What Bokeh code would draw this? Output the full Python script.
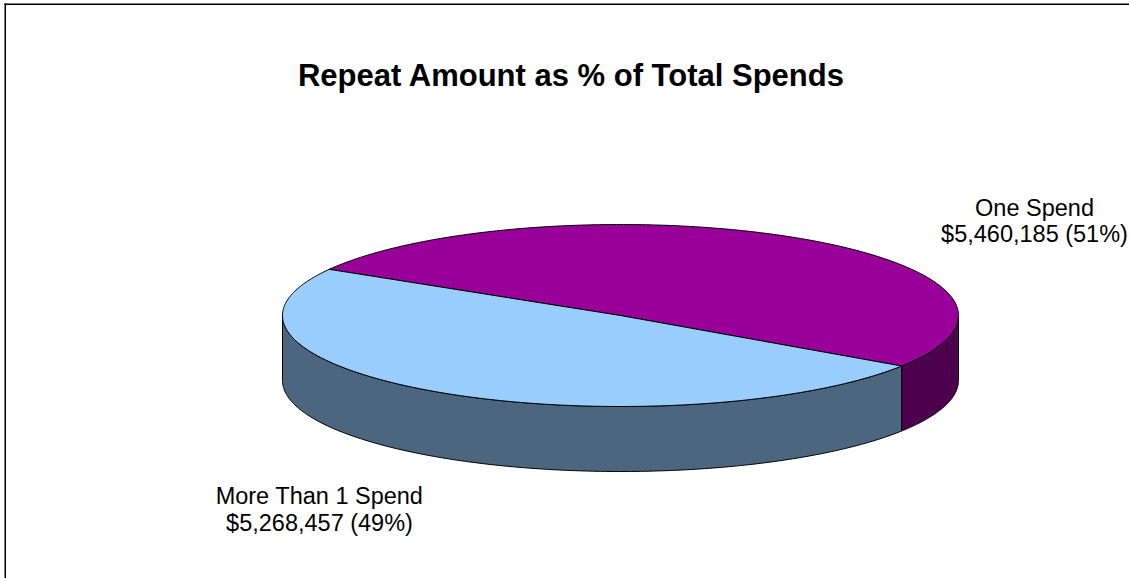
import numpy as np
from bokeh.plotting import figure
from bokeh.models import Range1d
from bokeh.embed import file_html
from bokeh.resources import INLINE
from bokeh.core.properties import value

# ---- data ----
categories = ["One Spend", "More Than 1 Spend"]
amounts = [5460185, 5268457]
top_colors = ["#990099", "#99CCFF"]
side_colors = ["#4D004D", "#4D6680"]
title_text = "Repeat Amount as % of Total Spends"

# ---- layout ----
W, H = 1129, 578
CX, CY, RX, RY, DEPTH = 620, 315, 338, 91, 65
START = 149.5  # degrees, first slice starts here and runs clockwise
FONT = "Liberation Sans"

p = figure(width=W, height=H, x_range=Range1d(0, W), y_range=Range1d(H, 0),
           output_backend="svg", toolbar_location=None,
           min_border=0, min_border_left=0, min_border_right=0,
           min_border_top=0, min_border_bottom=0)
p.xaxis.visible = False
p.yaxis.visible = False
p.grid.visible = False
p.outline_line_color = None
p.background_fill_color = "white"
p.border_fill_color = "white"

total = float(sum(amounts))
spans = [a / total * 360.0 for a in amounts]


def ex(t):
    return CX + RX * np.cos(np.radians(t))


def ey(t):
    return CY - RY * np.sin(np.radians(t))


# compute slice angle intervals
slices = []
a0 = START
for s in spans:
    slices.append((a0, a0 - s))
    a0 -= s

# sides (front half: sin(t) <= 0)
side_xs, side_ys, side_cols = [], [], []
for (a_s, a_e), col in zip(slices, side_colors):
    for k in range(-2, 3):
        lo = max(a_e, -180 + 360 * k)
        hi = min(a_s, 0 + 360 * k)
        if hi > lo:
            t = np.linspace(hi, lo, 200)
            xs = list(ex(t)) + list(ex(t[::-1]))
            ys = list(ey(t)) + list(ey(t[::-1]) + DEPTH)
            side_xs.append(xs)
            side_ys.append(ys)
            side_cols.append(col)

p.patches(side_xs, side_ys, fill_color=side_cols, line_color="black", line_width=1)

# top faces
top_xs, top_ys = [], []
for (a_s, a_e) in slices:
    t = np.linspace(a_s, a_e, 300)
    top_xs.append([CX] + list(ex(t)))
    top_ys.append([CY] + list(ey(t)))
p.patches(top_xs, top_ys, fill_color=top_colors, line_color="black", line_width=1)

# frame (top and left edges of chart area) as thin filled bars
p.quad(left=[4, 4], right=[W, 5.5], top=[3, 3], bottom=[4.5, H],
       fill_color="black", line_color=None)

# title
p.text(x=[571], y=[75], text=[title_text], text_font=value(FONT),
       text_font_size="31px", text_font_style="bold", text_color="black",
       text_align="center", text_baseline="middle")

# labels
pcts = [a / total * 100 for a in amounts]
label_pos = [(1034, 207, 233), (319, 495, 522)]
for cat, amt, pc, (lx, ly1, ly2) in zip(categories, amounts, pcts, label_pos):
    p.text(x=[lx, lx], y=[ly1, ly2], text=[cat, f"${amt:,} ({pc:.0f}%)"],
           text_font=value(FONT), text_font_size="23.5px", text_color="black",
           text_align="center", text_baseline="middle")

html = file_html(p, INLINE)
html = html.replace("<head>", "<head><style>html,body{margin:0;padding:0;overflow:hidden;}</style>", 1)
open("out.html", "w").write(html)
